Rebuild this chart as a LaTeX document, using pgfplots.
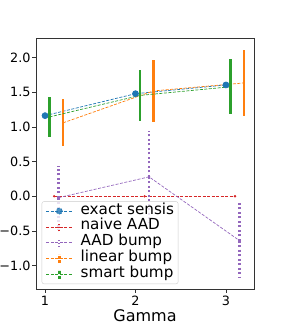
\documentclass[border=0pt]{standalone}
\usepackage{fontspec}
\setmainfont{DejaVu Sans}
\usepackage{pgfplots}
\pgfplotsset{compat=1.18}
\definecolor{tabblue}{HTML}{1F77B4}
\definecolor{taborange}{HTML}{FF7F0E}
\definecolor{tabgreen}{HTML}{2CA02C}
\definecolor{tabred}{HTML}{D62728}
\definecolor{tabpurple}{HTML}{9467BD}
\newcommand{\tkfont}{\fontsize{12.8}{13}\selectfont}
\newcommand{\lgfont}{\fontsize{15.2}{16}\selectfont}
\begin{document}
\begin{tikzpicture}[x=1pt,y=1pt]
\useasboundingbox (-36,-37) rectangle (247,289);
\begin{axis}[
  at={(0,0)}, anchor=south west,
  scale only axis, width=218pt, height=251pt,
  xmin=0.90, xmax=3.31, ymin=-1.338, ymax=2.284,
  xtick={1,2,3}, ytick={-1,-0.5,0,0.5,1,1.5,2},
  yticklabels={−1.0,−0.5,0.0,0.5,1.0,1.5,2.0},
  /pgf/number format/assume math mode=true,
  tick label style={font=\tkfont},
  yticklabel style={xshift=1.5pt},
  tick align=outside, tick pos=left, major tick length=3.5pt,
  tick style={black!80, line width=0.6pt},
  xlabel={Gamma}, xlabel style={font=\fontsize{16}{17}\selectfont, yshift=3pt},
  axis line style={line width=0.8pt, black!80},
  legend style={at={(axis description cs:0.0262,0.0199)}, anchor=south west,
    font=\lgfont, draw=black!20, rounded corners=2pt, fill=white, fill opacity=0.8, text opacity=1,
    row sep=3.8pt, column sep=8pt, inner xsep=4pt, inner ysep=3.5pt,
    nodes={inner sep=0pt, text height=9pt, text depth=3pt}},
  legend cell align=left,
  every axis plot/.append style={line width=0.7pt, dash pattern=on 3pt off 1.5pt},
]
\addplot[tabblue, mark=*, mark size=3pt, mark options={solid},
  legend image code/.code={
    \draw[tabblue, line width=0.7pt, dash pattern=on 3pt off 1.5pt] (0pt,0pt) -- (26pt,0pt);
    \fill[tabblue] (13pt,0pt) circle (3pt);}]
  coordinates {(1,1.163) (2,1.48) (3,1.606)};
\addlegendentry{exact sensis}
\addplot[tabred, mark=*, mark size=0.8pt, mark options={solid},
  legend image code/.code={
    \draw[tabred, line width=0.7pt, dash pattern=on 3pt off 1.5pt] (0pt,0pt) -- (26pt,0pt);
    \draw[tabred, line width=2pt, dash pattern=on 1.5pt off 1.5pt] (13pt,-4.5pt) -- (13pt,4.5pt);}]
  coordinates {(1.1,0) (2.1,0) (3.1,0)};
\addlegendentry{naive AAD}
\addplot[tabpurple, mark=*, mark size=0.8pt, mark options={solid},
  error bars/.cd, y dir=both, y explicit, error mark=none,
  error bar style={line width=2.3pt, dash pattern=on 2pt off 2.5pt}]
  [legend image code/.code={
    \draw[tabpurple, line width=0.7pt, dash pattern=on 3pt off 1.5pt] (0pt,0pt) -- (26pt,0pt);
    \draw[tabpurple, line width=2pt, dash pattern=on 1.5pt off 1.5pt] (13pt,-4.5pt) -- (13pt,4.5pt);}]
  coordinates {(1.15,-0.02) +- (0,0.46) (2.15,0.28) +- (0,0.66) (3.15,-0.64) +- (0,0.54)};
\addlegendentry{AAD bump}
\addplot[taborange, mark=none,
  error bars/.cd, y dir=both, y explicit, error mark=none,
  error bar style={line width=2.5pt, solid}]
  [legend image code/.code={
    \draw[taborange, line width=0.7pt, dash pattern=on 3pt off 1.5pt] (0pt,0pt) -- (26pt,0pt);
    \draw[taborange, line width=2.5pt] (13pt,-4.5pt) -- (13pt,4.5pt);}]
  coordinates {(1.2,1.06) +- (0,0.34) (2.2,1.52) +- (0,0.45) (3.2,1.635) +- (0,0.47)};
\addlegendentry{linear bump}
\addplot[tabgreen, mark=none,
  error bars/.cd, y dir=both, y explicit, error mark=none,
  error bar style={line width=2.5pt, solid}]
  [legend image code/.code={
    \draw[tabgreen, line width=0.7pt, dash pattern=on 3pt off 1.5pt] (0pt,0pt) -- (26pt,0pt);
    \draw[tabgreen, line width=2.5pt] (13pt,-4.5pt) -- (13pt,4.5pt);}]
  coordinates {(1.05,1.145) +- (0,0.285) (2.05,1.455) +- (0,0.365) (3.05,1.58) +- (0,0.40)};
\addlegendentry{smart bump}
\node[anchor=south west, inner sep=0pt, font=\fontsize{13.5}{14}\selectfont] at (rel axis cs:0,1) [yshift=1.5pt] {1e−3};
\end{axis}
\end{tikzpicture}
\end{document}
